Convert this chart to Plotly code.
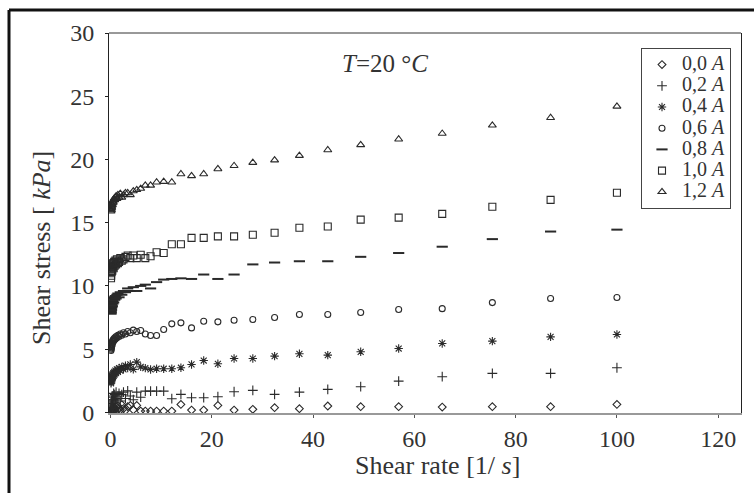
import plotly.graph_objects as go

shear_rate = [0.1, 0.115, 0.133, 0.153, 0.176, 0.202, 0.233, 0.268, 0.309, 0.356,
              0.409, 0.471, 0.543, 0.625, 0.72, 0.829, 0.954, 1.1, 1.26, 1.46,
              1.68, 1.93, 2.22, 2.56, 2.95, 3.39, 3.91, 4.5, 5.18, 5.96,
              6.87, 7.91, 9.1, 10.5, 12.1, 13.9, 16.0, 18.4, 21.2, 24.4,
              28.1, 32.4, 37.3, 42.9, 49.4, 56.9, 65.5, 75.4, 86.9, 100]

s_00 = [0.0, 0.05, 0.1, 0.0, 0.15, 0.05, 0.2, 0.1, 0.25, 0.1,
        0.3, 0.15, 0.35, 0.2, 0.4, 0.15, 0.3, 0.45, 0.2, 0.5,
        0.3, 0.2, 0.6, 0.3, 0.15, 0.45, 0.55, 0.2, 0.55, 0.1,
        0.1, 0.1, 0.1, 0.1, 0.1, 0.63, 0.18, 0.18, 0.55, 0.18,
        0.24, 0.37, 0.29, 0.5, 0.45, 0.45, 0.42, 0.45, 0.45, 0.63]

s_02 = [0.3, 0.5, 0.4, 0.7, 0.6, 0.9, 0.5, 1.0, 0.8, 1.2,
        0.7, 1.3, 1.0, 1.5, 0.9, 1.4, 1.1, 1.6, 1.0, 1.3,
        1.5, 0.9, 1.4, 1.6, 1.1, 1.7, 1.3, 1.0, 1.6, 1.2,
        1.68, 1.68, 1.68, 1.68, 1.08, 1.42, 1.16, 1.16, 1.24, 1.63,
        1.74, 1.42, 1.6, 1.82, 2.03, 2.47, 2.82, 3.08, 3.08, 3.53]

s_04 = [2.3, 2.5, 2.4, 2.6, 2.7, 2.5, 2.8, 2.6, 2.9, 2.7,
        3.0, 2.8, 3.1, 2.9, 3.2, 3.0, 3.3, 3.1, 3.4, 3.2,
        3.5, 3.3, 3.6, 3.4, 3.7, 3.5, 3.79, 3.4, 3.97, 3.6,
        3.5, 3.39, 3.45, 3.45, 3.45, 3.53, 3.79, 4.1, 3.84, 4.26,
        4.26, 4.45, 4.63, 4.53, 4.79, 5.05, 5.45, 5.63, 5.97, 6.16]

s_06 = [4.9, 5.0, 5.2, 5.1, 5.3, 5.2, 5.4, 5.5, 5.3, 5.6,
        5.5, 5.7, 5.6, 5.8, 5.7, 5.9, 5.8, 6.0, 5.9, 6.1,
        6.0, 6.2, 6.1, 6.3, 6.2, 6.4, 6.3, 6.5, 6.4, 6.47,
        6.2, 6.08, 6.08, 6.55, 7.0, 7.08, 6.68, 7.21, 7.16, 7.29,
        7.34, 7.5, 7.74, 7.74, 7.9, 8.13, 8.2, 8.68, 9.0, 9.08]

s_08 = [7.8, 8.0, 8.2, 7.9, 8.3, 8.1, 8.5, 8.3, 8.7, 8.4,
        8.8, 8.6, 9.0, 8.7, 9.1, 8.9, 9.2, 9.0, 9.3, 9.4,
        9.1, 9.5, 9.3, 9.6, 9.5, 9.8, 9.6, 9.9, 9.6, 10.0,
        10.1, 9.8, 10.3, 10.5, 10.55, 10.6, 10.55, 10.9, 10.55, 10.9,
        11.7, 11.85, 11.95, 11.95, 12.3, 12.6, 13.1, 13.7, 14.3, 14.45]

s_10 = [10.6, 11.0, 10.8, 11.2, 11.4, 11.1, 11.5, 11.3, 11.6, 11.2,
        11.7, 11.5, 11.8, 11.4, 11.9, 11.6, 12.0, 11.7, 12.1, 11.8,
        11.9, 12.2, 12.0, 12.1, 12.3, 12.4, 12.2, 12.4, 12.2, 12.47,
        12.2, 12.34, 12.66, 12.6, 13.3, 13.3, 13.8, 13.8, 13.92, 13.92,
        14.05, 14.2, 14.6, 14.7, 15.24, 15.4, 15.7, 16.26, 16.8, 17.37]

s_12 = [15.9, 16.0, 16.1, 16.0, 16.2, 16.3, 16.2, 16.4, 16.5, 16.4,
        16.6, 16.7, 16.6, 16.8, 16.9, 16.8, 17.0, 17.1, 16.9, 17.2,
        17.0, 17.3, 17.0, 17.2, 17.35, 17.35, 17.2, 17.5, 17.6, 17.7,
        17.95, 17.95, 18.2, 18.25, 18.2, 18.85, 18.7, 18.85, 19.25, 19.5,
        19.75, 19.95, 20.3, 20.75, 21.15, 21.6, 22.05, 22.7, 23.3, 24.2]

series_names = ["0,0 <i>A</i>", "0,2 <i>A</i>", "0,4 <i>A</i>", "0,6 <i>A</i>",
                "0,8 <i>A</i>", "1,0 <i>A</i>", "1,2 <i>A</i>"]
series_vals = [s_00, s_02, s_04, s_06, s_08, s_10, s_12]
symbols = ["diamond-open", "cross-thin-open", "asterisk-open", "circle-open",
           "line-ew-open", "square-open", "triangle-up-open"]
sizes = [6, 7, 7, 6, 8, 7, 7]

FONT = "Liberation Serif"
INK = "#2a2a2a"

fig = go.Figure()
for name, vals, sym, sz in zip(series_names, series_vals, symbols, sizes):
    fig.add_trace(go.Scatter(
        x=shear_rate, y=vals, mode="markers",
        name='<span style="font-size:20px">' + name + "</span>",
        marker=dict(symbol=sym, size=sz, color=INK,
                    line=dict(color=INK, width=2 if sym == "line-ew-open" else 1.1)),
    ))

L, R, T, B = 109, 13, 33, 80
W, H = 754, 493
pw, ph = W - L - R, H - T - B

def px2paper_x(px):
    return (px - L) / pw

def px2paper_y(py):
    return (H - B - py) / ph

fig.update_layout(
    width=W, height=H, autosize=False,
    margin=dict(l=L, r=R, t=T, b=B),
    paper_bgcolor="white", plot_bgcolor="white",
    font=dict(family=FONT, size=20, color="#333"),
    showlegend=True,
    legend=dict(
        x=px2paper_x(731), y=px2paper_y(48), xanchor="right", yanchor="top",
        bordercolor="#444", borderwidth=1, bgcolor="white",
        font=dict(family=FONT, size=14, color="#333"),
        itemwidth=30, tracegroupgap=0,
    ),
    xaxis=dict(
        range=[-0.3, 124.5], tickvals=[0, 20, 40, 60, 80, 100, 120],
        showgrid=False, zeroline=False, showline=True, linecolor="#999", linewidth=2,
        ticks="outside", ticklen=3, tickcolor="#555",
        tickfont=dict(family=FONT, size=24, color="#333"),
    ),
    yaxis=dict(
        range=[-0.05, 30], tickvals=[0, 5, 10, 15, 20, 25, 30],
        showgrid=False, zeroline=False, showline=True, linecolor="#222", linewidth=1,
        mirror=True,
        ticks="outside", ticklen=3, tickcolor="#222",
        ticklabelstandoff=6,
        tickfont=dict(family=FONT, size=24, color="#333"),
    ),
    annotations=[
        dict(text="<i>T</i>=20 °<i>C</i>", x=px2paper_x(385), y=px2paper_y(63),
             xref="paper", yref="paper", showarrow=False,
             xanchor="center", yanchor="middle",
             font=dict(family=FONT, size=25, color="#333")),
        dict(text="Shear rate [1/ <i>s</i>]", x=px2paper_x(437), y=px2paper_y(466),
             xref="paper", yref="paper", showarrow=False,
             xanchor="center", yanchor="middle",
             font=dict(family=FONT, size=26, color="#333")),
        dict(text="Shear stress [ <i>kPa</i>]", x=px2paper_x(41), y=px2paper_y(248),
             xref="paper", yref="paper", showarrow=False, textangle=-90,
             xanchor="center", yanchor="middle",
             font=dict(family=FONT, size=26, color="#333")),
    ],
    shapes=[
        dict(type="line", xref="paper", yref="paper", x0=0, x1=1, y0=1, y1=1,
             line=dict(color="#333", width=1)),
        dict(type="line", xref="paper", yref="paper",
             x0=px2paper_x(9), x1=px2paper_x(760), y0=px2paper_y(10), y1=px2paper_y(10),
             line=dict(color="#111", width=3)),
        dict(type="line", xref="paper", yref="paper",
             x0=px2paper_x(9), x1=px2paper_x(9), y0=px2paper_y(10), y1=px2paper_y(500),
             line=dict(color="#111", width=3)),
    ],
)

fig.write_html("out.html")
